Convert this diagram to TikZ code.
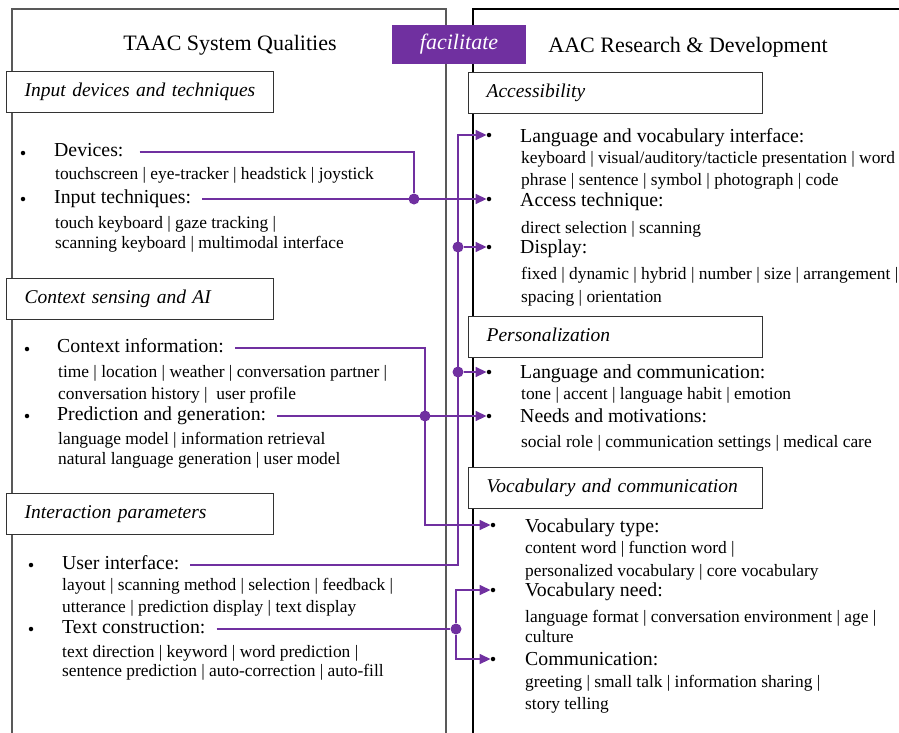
\documentclass[tikz,border=0pt]{standalone}
\usepackage{fontspec}
\setmainfont{Liberation Serif}
\usetikzlibrary{arrows.meta,positioning,calc}
\definecolor{facilpurple}{HTML}{7030A0}

\begin{document}
\begin{tikzpicture}[x=1pt, y=-1pt, >={Triangle[length=11pt,width=10pt]},
    sechead/.style={draw=black!80, line width=1.2pt, fill=white, anchor=north west,
        minimum height=40.5pt, inner xsep=18pt, inner ysep=0pt, align=left,
        text height=13.5pt, text depth=4pt, font=\fontsize{19.5}{22}\selectfont\itshape},
    ttl/.style={inner sep=0pt, font=\fontsize{22}{24}\selectfont},
    head/.style={anchor=west, inner sep=0pt, text height=13.5pt, text depth=4pt,
        font=\fontsize{19.8}{22}\selectfont},
    sub/.style={anchor=base west, inner sep=0pt, font=\fontsize{17.4}{20}\selectfont},
    bul/.style={circle, fill=black, inner sep=0pt, minimum size=4.5pt},
    link/.style={draw=facilpurple, line width=1.6pt, shorten <=11pt},
    dot/.style={circle, fill=facilpurple, inner sep=0pt, minimum size=11pt}]
    \useasboundingbox (0,0) rectangle (899,732);

    % the two columns
    \draw[draw=black!65, line width=1.8pt] (12,733) -- (12,9) -- (446,9) -- (446,733);
    \draw[line width=1.1pt] (900,9) -- (473,9) -- (473,733);

    \node[fill=facilpurple, text=white, minimum width=134pt, minimum height=39pt,
        font=\fontsize{22}{24}\selectfont\itshape] (facil) at (459,44.5) {facilitate};

    \node[ttl] (leftttl) at (230,45) {TAAC System Qualities};
    \node[ttl] (rightttl) at (688,47) {AAC Research \& Development};

    % section headers
    \node[sechead, text width=231pt] (inputdev) at (6,71) {Input devices and techniques};
    \node[sechead, text width=231pt] (ctxsense) at (6,278) {Context sensing and AI};
    \node[sechead, text width=231pt] (interact) at (6,493) {Interaction parameters};
    \node[sechead, text width=258pt] (accessib) at (468,72) {Accessibility};
    \node[sechead, text width=258pt] (personal) at (468,316) {Personalization};
    \node[sechead, text width=258pt] (vocabcom) at (468,467) {Vocabulary and communication};

    % left items
    \node[bul] (b-devices) at (23,153) {};
    \node[head] (devices) at (54,152) {Devices:};
    \node[sub] (devices-1) at (55,179) {touchscreen | eye-tracker | headstick | joystick};
    \node[bul] (b-inputtech) at (23,199) {};
    \node[head] (inputtech) at (54,199) {Input techniques:};
    \node[sub] (inputtech-1) at (55,228) {touch keyboard | gaze tracking |};
    \node[sub] (inputtech-2) at (55,248) {scanning keyboard | multimodal interface};

    \node[bul] (b-ctxinfo) at (27,349) {};
    \node[head] (ctxinfo) at (57,348) {Context information:};
    \node[sub] (ctxinfo-1) at (58,377) {time | location | weather | conversation partner |};
    \node[sub] (ctxinfo-2) at (58,399) {conversation history~|~~user profile};
    \node[bul] (b-predgen) at (27,416) {};
    \node[head] (predgen) at (57,416) {Prediction and generation:};
    \node[sub] (predgen-1) at (58,444) {language model | information retrieval};
    \node[sub] (predgen-2) at (58,464) {natural language generation | user model};

    \node[bul] (b-userif) at (31,565) {};
    \node[head] (userif) at (62,565) {User interface:};
    \node[sub] (userif-1) at (62,590) {layout | scanning method | selection | feedback |};
    \node[sub] (userif-2) at (62,612) {utterance | prediction display | text display};
    \node[bul] (b-textcon) at (31,629) {};
    \node[head] (textcon) at (62,629) {Text construction:};
    \node[sub] (textcon-1) at (62,657) {text direction | keyword | word prediction |};
    \node[sub] (textcon-2) at (62,676) {sentence prediction | auto-correction | auto-fill};

    % right items
    \node[bul] (b-langvoc) at (489,135) {};
    \node[head] (langvoc) at (520,138) {Language and vocabulary interface:};
    \node[sub] (langvoc-1) at (521,163) {keyboard | visual/auditory/tacticle presentation | word};
    \node[sub] (langvoc-2) at (521,185) {phrase | sentence | symbol | photograph | code};
    \node[bul] (b-access) at (489,199) {};
    \node[head] (access) at (520,202) {Access technique:};
    \node[sub] (access-1) at (521,233) {direct selection | scanning};
    \node[bul] (b-display) at (489,247) {};
    \node[head] (display) at (520,249) {Display:};
    \node[sub] (display-1) at (521,279) {fixed | dynamic | hybrid | number | size | arrangement |};
    \node[sub] (display-2) at (521,302) {spacing | orientation};

    \node[bul] (b-langcomm) at (489,372) {};
    \node[head] (langcomm) at (520,374) {Language and communication:};
    \node[sub] (langcomm-1) at (521,399) {tone | accent | language habit | emotion};
    \node[bul] (b-needs) at (489,416) {};
    \node[head] (needs) at (520,418) {Needs and motivations:};
    \node[sub] (needs-1) at (521,447) {social role | communication settings | medical care};

    \node[bul] (b-vocabtype) at (493,525) {};
    \node[head] (vocabtype) at (525,528) {Vocabulary type:};
    \node[sub] (vocabtype-1) at (525,553) {content word | function word |};
    \node[sub] (vocabtype-2) at (525,576) {personalized vocabulary | core vocabulary};
    \node[bul] (b-vocabneed) at (493,590) {};
    \node[head] (vocabneed) at (525,592) {Vocabulary need:};
    \node[sub] (vocabneed-1) at (525,622) {language format | conversation environment | age |};
    \node[sub] (vocabneed-2) at (525,642) {culture};
    \node[bul] (b-communic) at (493,659) {};
    \node[head] (communic) at (525,661) {Communication:};
    \node[sub] (communic-1) at (525,687) {greeting | small talk | information sharing |};
    \node[sub] (communic-2) at (525,709) {story telling};

    % connectors
    \coordinate (trunk) at (458,0);
    \node[dot] (j-dev) at (414,199) {};
    \node[dot] (j-ctx) at (425,416) {};
    \node[dot] (j-txt) at (456,629) {};
    \node[dot] (j-disp) at (trunk |- b-display) {};
    \node[dot] (j-lcom) at (trunk |- b-langcomm) {};

    \draw[link, shorten <=16pt] (devices.east) -| (j-dev);
    \draw[link, ->] (inputtech.east) -- (inputtech.east -| b-access.west);
    \draw[link, ->] (userif.east) -- (userif.east -| trunk) |- (b-langvoc.west);
    \draw[link, ->, shorten <=0pt] (j-disp) -- (b-display);
    \draw[link, ->, shorten <=0pt] (j-lcom) -- (b-langcomm);
    \draw[link, ->] (ctxinfo.east) -| (j-ctx.center) |- (b-vocabtype.west);
    \draw[link, ->] (predgen.east) -- (predgen.east -| b-needs.west);
    \draw[link] (textcon.east) -- (j-txt);
    \draw[link, ->, shorten <=0pt] (j-txt) |- (b-vocabneed.west);
    \draw[link, ->, shorten <=0pt] (j-txt) |- (b-communic.west);
\end{tikzpicture}
\end{document}
